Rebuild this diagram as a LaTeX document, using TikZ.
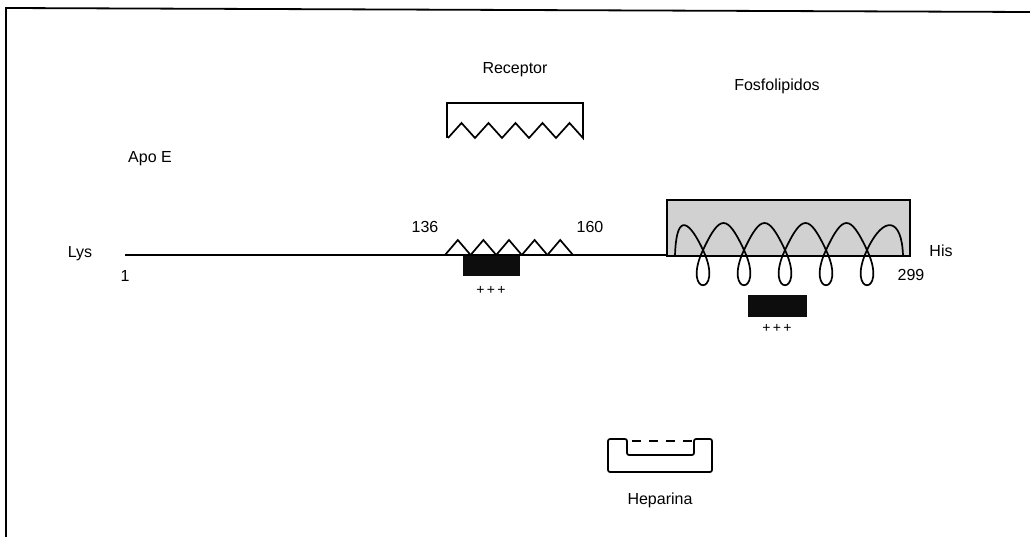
\documentclass[tikz,border=0pt]{standalone}
\usepackage{fontspec}
\setmainfont{Liberation Sans}
\definecolor{lipidfill}{gray}{0.82}
\definecolor{basicbox}{gray}{0.05}
\tikzset{
  lbl/.style={font=\fontsize{16}{19}\selectfont, inner sep=0pt},
  charge/.style={font=\fontsize{14}{16}\selectfont, inner sep=0pt}
}

\begin{document}
\begin{tikzpicture}[x=1pt, y=-1pt, line width=1.7pt]
			\useasboundingbox (0,0) rectangle (1030,537);
			\def\tw{25.6}
			\def\zw{27}
			
			% frame
			\draw[line width=1.8pt] (6,537) -- (6,8) -- (1030,12);
			
			% receptor site
			\draw (447,138) -- (447,103) -- (583,103) -- (583,138)
				\foreach \i in {1,...,5} { -- ({583-\zw*\i+0.5*\zw},123) -- ({583-\zw*\i},138) };
			
			% chain
			\draw (125,255) -- (667,255);
			\foreach \i in {0,...,4}
				\draw ({445+\tw*\i},255) -- ({445+\tw*\i+0.5*\tw},240) -- ({445+\tw*(\i+1)},255);
			\fill[basicbox] (463,256) rectangle (520,276);
			
			% lipid binding helix
			\filldraw[fill=lipidfill] (667,200) rectangle (910,256);
			\draw (675,256) .. controls (676,218) and (686,214) .. (703,250)
				\foreach \c in {703,744,785,826} {
					.. controls (\c+22,297) and (\c-22,297) .. (\c,250)
					.. controls (\c+17,214) and (\c+24,214) .. (\c+41,250) }
				.. controls (889,297) and (845,297) .. (867,250)
				.. controls (884,214) and (902,218) .. (903,256);
			\fill[basicbox] (748,295) rectangle (807,317);
			
			% heparin
			\draw[rounded corners=2pt] (608,439) -- (627,439) -- (627,455) -- (694,455)
				-- (694,439) -- (712,439) -- (712,472) -- (608,472) -- cycle;
			\draw[line width=1.2pt, dash pattern=on 9pt off 8pt] (632,441) -- (692,441);
			
			\node[lbl] (apoe) at (150,159) {Apo E};
			\node[lbl] (receptor) at (515,70) {Receptor};
			\node[lbl] (fosfo) at (777,86) {Fosfolipidos};
			\node[lbl] (lys) at (80,254) {Lys};
			\node[lbl] (first) at (125,276) {1};
			\node[lbl] (res136) at (425,227) {136};
			\node[lbl] (res160) at (590,227) {160};
			\node[lbl] (his) at (941,251) {His};
			\node[lbl] (last) at (911,275) {299};
			\node[charge] (chargeA) at (491,290) {+\,+\,+};
			\node[charge] (chargeB) at (777,328) {+\,+\,+};
			\node[lbl] (heparina) at (660,500) {Heparina};
		\end{tikzpicture}
\end{document}
